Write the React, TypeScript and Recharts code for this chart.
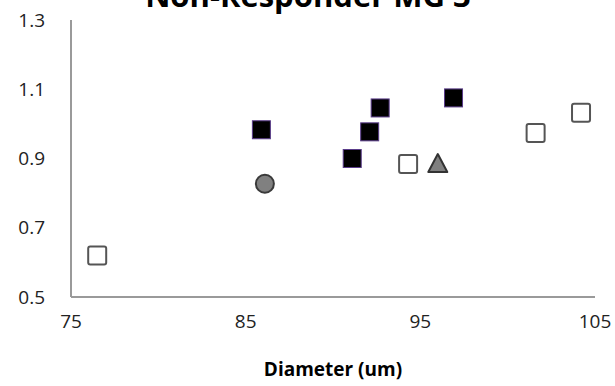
import React from 'react';
import { ScatterChart, Scatter, XAxis, YAxis } from 'recharts';

const title = 'Non-Responder MG 3';
const xAxisTitle = 'Diameter (um)';
const xTicks = [75, 85, 95, 105];
const yTicks = [0.5, 0.7, 0.9, 1.1, 1.3];

const openSquareX = [76.5, 94.3, 101.6, 104.2];
const openSquareY = [0.62, 0.884, 0.974, 1.032];
const blackSquareX = [85.9, 91.1, 92.1, 92.7, 96.9];
const blackSquareY = [0.983, 0.9, 0.977, 1.046, 1.075];
const circleX = [86.1];
const circleY = [0.827];
const triangleX = [96.0];
const triangleY = [0.884];

const toPoints = (xs: number[], ys: number[]) => xs.map((x, i) => ({ x, y: ys[i] }));

const OpenSquare = (p: any) => (
  <rect x={p.cx - 9} y={p.cy - 9} width={18} height={18} rx={2} fill="#ffffff" stroke="#555555" strokeWidth={2} />
);
const BlackSquare = (p: any) => (
  <rect x={p.cx - 9} y={p.cy - 9} width={18} height={18} fill="#000000" stroke="#5a3c8a" strokeWidth={1} />
);
const Circle = (p: any) => (
  <circle cx={p.cx} cy={p.cy} r={9} fill="#808080" stroke="#3a3a3a" strokeWidth={2} />
);
const Triangle = (p: any) => (
  <polygon
    points={`${p.cx},${p.cy - 10} ${p.cx + 9.5},${p.cy + 8} ${p.cx - 9.5},${p.cy + 8}`}
    fill="#808080"
    stroke="#333333"
    strokeWidth={2}
    strokeLinejoin="round"
  />
);

const font = '"Open Sans", sans-serif';

export default function App() {
  return (
    <div style={{ position: 'absolute', left: 0, top: 0, width: 615, height: 386, background: '#fff', overflow: 'hidden' }}>
      <div
        style={{
          position: 'absolute',
          left: 308 - 250,
          width: 500,
          top: -25,
          textAlign: 'center',
          fontFamily: font,
          fontWeight: 'bold',
          fontSize: 31,
          lineHeight: '40px',
          color: '#000',
          whiteSpace: 'nowrap',
        }}
      >
        {title}
      </div>
      <ScatterChart width={615} height={386} margin={{ top: 20, right: 20, bottom: 0, left: 0 }}>
        <XAxis
          type="number"
          dataKey="x"
          domain={[75, 105]}
          ticks={xTicks}
          allowDataOverflow
          tickLine={false}
          tickMargin={12}
          height={89}
          stroke="#9a9a9a"
          strokeWidth={2}
          tick={{ fill: '#222', fontSize: 19, fontFamily: font }}
          label={{ value: xAxisTitle, position: 'insideBottom', offset: 10, fill: '#000', fontSize: 19, fontWeight: 'bold', fontFamily: font }}
        />
        <YAxis
          type="number"
          dataKey="y"
          domain={[0.5, 1.3]}
          ticks={yTicks}
          allowDataOverflow
          tickLine={false}
          tickMargin={20}
          width={71}
          stroke="#9a9a9a"
          strokeWidth={2}
          tickFormatter={(v: number) => v.toFixed(1)}
          tick={{ fill: '#222', fontSize: 19, fontFamily: font }}
        />
        <Scatter data={toPoints(openSquareX, openSquareY)} shape={OpenSquare} isAnimationActive={false} />
        <Scatter data={toPoints(blackSquareX, blackSquareY)} shape={BlackSquare} isAnimationActive={false} />
        <Scatter data={toPoints(circleX, circleY)} shape={Circle} isAnimationActive={false} />
        <Scatter data={toPoints(triangleX, triangleY)} shape={Triangle} isAnimationActive={false} />
      </ScatterChart>
    </div>
  );
}
